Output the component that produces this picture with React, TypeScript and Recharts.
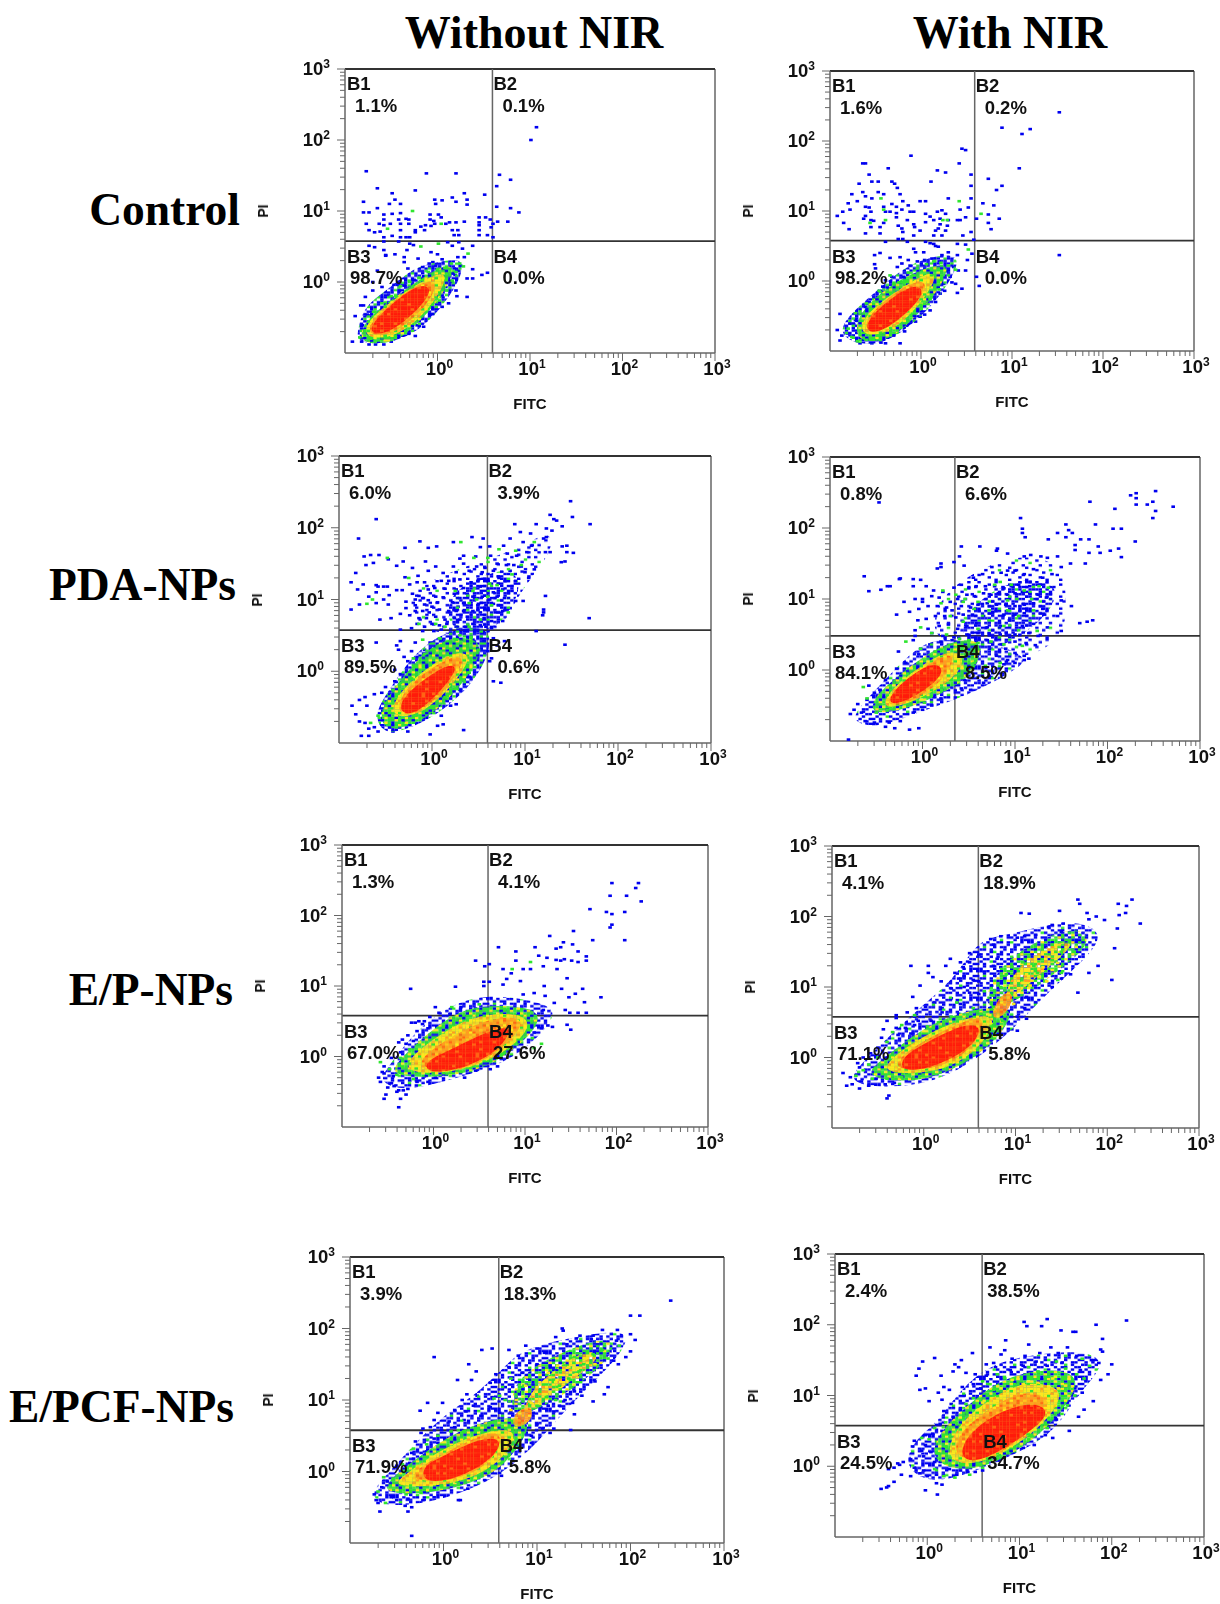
import { ScatterChart, Scatter, XAxis, YAxis, ReferenceLine } from 'recharts'

// all cytometry values are log10(intensity) x 100, written as flat FITC,PI pairs
type Pt = { x: number; y: number }
const pairs = (flat: number[]): Pt[] => {
  const out: Pt[] = []
  for (let i = 0; i < flat.length; i += 2) out.push({ x: flat[i] / 100, y: flat[i + 1] / 100 })
  return out
}

const controlOffBlue = [107,218,101,200,-77,156,-12,153,20,153,67,151,79,144,64,135,-65,132,-24,129,-49,125,29,125,51,123,16,119,-46,116,-3,116,5,115,-80,113,-52,110,-40,110,20,113,32,116,32,109,-2,110,64,106,79,104,-65,104,-80,98,-74,98,88,98,-58,95,-49,96,-40,97,-8,95,1,95,4,91,45,91,52,91,57,88,-58,88,-42,88,-34,89,-31,88,-8,88,-4,86,-77,82,-63,82,-58,80,-51,82,-40,82,-31,82,-13,80,-7,79,-3,82,13,84,20,84,29,85,45,84,60,82,65,85,76,85,9,82,-74,73,-68,70,-62,71,-58,63,-49,65,-40,73,-24,73,-18,78,-14,73,16,73,22,73,45,80,45,73,-40,63,-34,63,-30,63,-24,70,18,66,23,66,45,66,54,66,60,63,58,77,-58,57,-42,57,-30,54,-68,49,-74,51,-58,45,-33,45,-46,39,-36,35,-56,37,-26,52,-7,42,0,39,11,56,16,51,23,56,27,47,38,51,22,35,29,35,5,32,-5,28,-21,33,-36,28,-32,19,-56,38,-16,21,-9,26,-2,23,25,23,18,19,23,16,16,12,38,18,48,10,54,13,32,5,38,5,-65,16,-70,0,-60,-7,-43,0,-35,-5,-43,-4,16,0,9,-7,20,-12,32,-21,5,-19,0,-19,5,-35,-5,-38,-11,-33,-5,-45,-18,-52,-23,-54,-22,-61,-15,-63,-31,-73,-24,-76,-50,-84,-58,-88,-67,-88,-74,-88,-92,-84,-89,-48,-83,-33,-78,-21,-80,-33,-75,-47,-81,-61,-76,-46,-70,-12,-52,-38,-56,-19,-41,-12,-36,-5,-47,-4,-8,10,0,16,8,8,19,10,-15,8,-25,3,21,-20,12,-30,-8,-46,-28,-62,-36,-66,-30,-58,-44,-74,-60,-80,-70,-82,-82,-84,-72,-75]
const controlOffGreen = [-27,100,-54,75,4,82,-18,50,1,54,-45,-20,-34,-14,-26,-34,-16,-38,-6,-32,2,-26,10,-12,16,2,20,14,24,26,28,22,33,40,-78,-68,-84,-78,-72,-80,-60,-78,-50,-72,-40,-62,-26,-50,-60,-30,-50,-20,-40,-6,-30,0,-20,6,-10,14,0,18,8,20,15,26,-69,-42,-74,-56]
const controlOffHalo = [-88,-87,-49,-87,-16,-66,9,-28,27,9,27,35,2,28,-23,23,-52,-9,-79,-33,-86,-66]
const controlOffLevels = [
  [-87,-87,-52,-87,-34,-75,5,-23,23,28,-2,19,-38,-14,-79,-52],
  [-83,-80,-42,-80,0,-26,13,16,-9,9,-74,-47],
  [-78,-77,-45,-75,-9,-30,2,2,-18,2,-70,-49],
  [-75,-74,-51,-74,-12,-28,-6,-6,-23,-2,-68,-51],
]

const controlOnBlue = [152,241,89,219,120,217,111,210,45,189,49,187,-11,179,-61,168,-64,168,42,168,-36,161,18,158,27,155,108,161,-57,152,55,152,74,146,11,142,-54,142,-47,142,-32,142,-29,139,-68,139,55,136,89,136,83,130,-26,133,-64,127,-47,127,-76,124,-41,124,-23,124,-61,121,30,118,55,118,-54,118,-1,114,5,114,-70,114,-80,111,-32,110,-20,114,-14,108,68,111,80,108,52,105,-61,106,-57,105,-41,106,-27,106,-21,102,-78,102,-86,99,-92,93,-55,99,-39,99,-34,99,-27,97,-12,99,-8,99,5,96,18,99,23,101,27,96,43,102,49,91,74,95,86,89,61,89,-61,93,-63,89,-55,87,-52,86,-27,91,-15,87,-8,81,5,84,10,92,14,87,21,89,30,87,40,87,43,87,-85,83,-41,83,-25,79,-7,77,21,81,29,79,19,75,74,83,-79,74,-55,77,-45,77,-21,75,-1,72,16,72,-61,68,-45,68,-20,70,-8,65,14,65,27,72,23,65,46,65,55,70,77,74,-25,60,-20,60,-15,56,-39,56,10,54,14,53,5,56,40,53,49,52,58,59,-45,40,-51,37,-34,33,-51,24,-50,18,-8,46,-6,41,3,41,-23,34,-21,25,-14,30,16,50,19,49,23,37,30,41,40,37,56,39,51,30,41,15,49,15,61,6,64,-7,152,37,38,-4,40,-17,45,-11,32,6,25,-4,21,-18,12,-23,7,-32,-1,-51,-8,-49,-14,-61,-23,-89,-39,-89,-54,-89,-67,-89,-34,-75,-48,-23,-39,1,-36,-11,-57,-30,-61,-37,-67,-47,-89,-47,-78,-61,-92,-70,-87,-78,-89,-85,-81,-75,-32,6,-26,20,-19,6,-12,22,-4,28,4,30,12,32,20,28,-28,-6,-20,-12,-44,-14,-50,-26,-60,-84,-64,-84,10,-42,4,-48,16,-30,26,-14,34,-2,28,14,36,20,-42,-8,-56,-40,-72,-56,-74,-62,-6,-58,-18,-72,-30,-78,-44,-88,-50,-84]
const controlOnGreen = [-44,118,-41,102,-56,83,-39,87,24,87,29,87,42,114,66,96,52,45,-34,8,-24,-2,-14,12,-4,18,6,24,14,28,22,26,30,22,38,16,-80,-68,-76,-80,-70,-86,-60,-84,-48,-78,-36,-66,-22,-54,-12,-44,0,-34,10,-26,20,-12,-72,-46,-60,-32,-46,-14,-30,-4,-20,-2,-8,8]
const controlOnHalo = [-92,-75,-68,-92,-39,-89,-8,-61,21,-23,43,25,36,39,10,34,-19,20,-52,-18,-78,-47]
const controlOnLevels = [
  [-72,-89,-37,-85,-19,-68,18,-18,34,25,10,22,-30,-1,-72,-47],
  [-68,-82,-28,-73,10,-16,19,15,-4,6,-65,-47],
  [-63,-75,-34,-70,1,-25,8,1,-13,-1,-59,-47],
  [-62,-74,-41,-74,1,-27,2,-7,-15,-7,-57,-49],
]

const pdaOffBlue = [149,237,170,205,151,215,127,218,-60,212,-79,185,89,205,140,202,131,212,134,210,112,205,123,199,95,194,106,192,129,196,123,187,120,185,43,187,55,185,-13,181,23,180,145,175,140,174,84,185,77,175,98,180,107,175,-29,172,-4,172,5,174,52,173,62,174,145,166,152,165,127,166,122,166,-66,162,-73,160,-57,162,34,161,30,157,47,160,63,161,81,164,91,161,102,166,-47,156,143,153,139,152,-71,148,-63,151,-38,147,-31,153,-21,144,-7,153,4,146,-82,137,-29,131,-15,133,23,146,34,150,48,146,57,144,70,150,80,148,88,148,96,146,-4,140,12,137,26,138,40,140,54,138,66,140,84,140,100,138,110,142,-60,120,-74,121,-58,118,-52,118,-48,118,-24,121,-16,124,-8,124,10,126,18,126,30,128,42,124,50,128,60,126,72,130,90,126,104,130,-87,124,-80,114,-60,110,-68,104,-46,106,-52,100,-38,113,-32,113,-21,108,-14,105,-4,114,3,116,14,115,26,114,34,116,46,116,52,118,60,112,66,110,76,114,86,112,122,105,-18,100,-10,102,-4,99,4,104,12,103,24,108,30,102,38,108,44,104,54,104,62,100,70,104,78,102,90,98,98,98,-78,93,-87,86,-60,95,-47,93,-28,97,-18,92,-8,93,0,90,6,96,22,96,28,90,34,95,42,92,50,94,58,92,66,94,74,92,84,88,-28,88,-18,84,-10,84,-3,82,8,86,18,84,26,84,34,84,44,84,52,82,60,86,68,82,76,84,120,82,120,86,169,74,-56,72,-44,74,-34,80,-24,78,-14,74,-6,74,4,76,14,72,24,74,30,72,38,76,46,72,56,74,64,70,76,70,119,78,-16,66,-8,62,0,66,8,64,16,66,26,62,36,62,44,66,52,64,58,62,64,60,112,56,-34,58,-22,60,-10,56,2,56,10,58,20,54,28,58,36,56,46,56,54,54,-60,40,-34,42,-38,36,-18,40,-2,40,10,44,20,40,32,44,44,44,56,42,66,46,78,42,143,37,-36,30,-22,28,-8,30,4,34,-30,20,-26,14,-16,20,-6,12,60,28,70,36,64,18,48,32,62,14,46,12,66,-14,74,-16,-40,2,-34,-4,-24,-8,-14,4,-40,-14,-28,-18,-36,-28,-50,-22,-54,-30,-62,-32,-72,-36,-78,-40,-86,-48,-70,-48,-82,-60,-78,-70,-72,-72,-68,-80,-62,-78,-58,-84,-76,-90,-68,-90,-42,-84,-30,-70,-2,-88,-26,-84,6,-76,12,-74,34,-82,26,-46,18,-28,30,-26,40,-8,14,-40,2,-52,20,-48,10,-62]
const pdaOffGreen = [31,180,72,170,-48,158,45,158,60,158,90,168,110,180,-25,130,25,112,44,112,62,122,70,120,86,135,96,148,-70,94,-64,100,40,95,48,100,60,104,64,92,-14,66,4,66,14,62,30,50,40,62,52,72,82,82,-10,44,8,46,26,44,42,48,50,30,-20,18,-8,24,2,28,10,36,46,6,40,-2,34,-12,26,-24,14,-36,0,-50,-18,-62,-36,-58,-50,-44,-58,-62,-66,-72,-22,-10,-34,-16,-42,-26]
const pdaOffCloud = [-30,106,5,130,48,152,95,171,127,199,131,171,106,129,91,101,77,64,63,50,5,50,-23,73]
const pdaOffDense = [16,106,48,129,84,147,98,119,81,78,63,54,16,54]
const pdaOffHalo = [-63,-62,-52,-87,-30,-83,5,-62,43,-20,63,27,63,64,20,59,-16,31,-48,-29]
const pdaOffLevels = [
  [-55,-80,-30,-80,2,-60,38,-11,59,40,30,50,-2,36,-30,-6,-55,-48],
  [-47,-66,-9,-62,30,-8,45,27,16,27,-38,-29],
  [-41,-62,-11,-60,23,-13,38,22,16,20,-30,-22],
  [-35,-59,-16,-61,20,-13,28,9,12,9,-34,-36],
]

const pdaOnBlue = [252,252,231,249,225,246,231,242,249,237,243,233,231,233,252,224,271,230,249,214,181,237,208,227,-47,236,106,214,187,205,155,205,108,199,108,193,111,187,146,193,158,197,162,193,155,187,136,184,171,184,180,184,206,199,215,199,230,181,165,176,190,174,212,171,203,168,215,159,81,171,165,169,180,165,192,165,42,174,62,174,80,168,92,164,110,160,117,162,128,160,135,158,146,160,20,150,34,152,-24,129,-25,128,-63,132,-35,118,-38,118,-45,113,-58,111,-10,128,-2,127,16,143,20,145,40,160,45,147,55,130,65,135,75,145,85,137,92,140,100,140,110,135,120,142,130,130,140,135,150,145,160,150,176,150,-10,118,0,100,4,118,12,112,22,110,34,116,42,120,50,115,58,118,68,118,78,118,88,115,96,118,104,120,116,118,124,120,-20,96,-8,100,0,96,10,104,18,102,30,96,38,100,48,106,56,104,66,108,74,106,82,108,92,106,100,108,108,110,116,108,125,106,134,102,-28,78,-14,82,-4,86,6,90,16,90,26,88,32,84,42,90,52,88,60,92,70,94,80,92,90,92,100,90,110,92,120,94,130,86,150,98,161,90,-5,70,4,72,14,76,24,76,36,74,44,78,54,78,66,76,76,82,88,78,100,78,110,80,132,78,146,76,170,66,178,68,184,70,-8,56,6,58,18,62,28,64,38,58,48,62,58,66,70,60,84,62,94,70,108,62,120,65,135,60,150,55,-8,48,10,52,22,48,34,46,48,50,60,52,72,52,84,50,100,50,115,52,125,48,-10,42,20,40,32,42,44,38,58,40,70,42,85,36,100,40,112,38,122,35,-2,30,8,36,24,32,40,26,60,26,74,30,90,30,100,24,-26,26,-4,22,8,16,18,10,48,30,80,20,92,14,110,20,-28,2,-18,10,-14,-4,-30,-18,-40,-14,-46,-28,-52,-32,-58,-22,-60,-42,-70,-48,-74,-56,-78,-62,-66,-60,-62,-72,-52,-74,-40,-80,-36,-74,-24,-72,-10,-60,0,-56,10,-50,12,-38,20,-40,24,-28,42,-26,52,-28,66,-18,74,-10,45,-14,36,-6,88,8,100,10,110,14,115,16,-80,-98,-30,-82,-14,-84,-4,-82]
const pdaOnGreen = [22,112,36,106,46,100,60,96,78,120,84,124,96,120,92,98,102,100,110,112,118,100,126,118,136,116,20,94,44,96,56,86,72,84,92,84,104,76,120,84,30,76,44,68,60,58,72,70,88,62,104,56,124,55,-2,60,10,52,26,50,40,44,50,42,60,38,74,40,88,36,108,34,-18,40,-2,30,14,26,28,22,40,14,56,10,68,6,84,10,-10,-34,-20,-44,-38,-56,-50,-60,-60,-40,-64,-24,2,-46,14,-26,30,-14]
const pdaOnCloud = [9,48,16,99,52,137,106,165,153,151,156,90,153,48,117,15,66,20,37,34]
const pdaOnDense = [37,48,52,90,95,128,145,128,145,90,109,48,70,24]
const pdaOnHalo = [-81,-72,-49,-83,-6,-60,48,-37,95,-4,117,15,88,34,37,43,5,43,-27,6,-60,-41]
const pdaOnLevels = [
  [-53,-65,-6,-51,37,-22,59,1,66,43,37,43,5,24,-38,-20,-56,-46],
  [-45,-58,-6,-44,36,-11,46,15,36,29,9,17,-38,-30],
  [-40,-53,-11,-46,27,-11,36,24,18,20,-35,-30],
  [-38,-51,-14,-43,20,-12,22,5,7,11,-33,-28],
]

const epOffBlue = [195,246,224,246,221,239,193,228,211,228,227,220,171,209,189,205,195,202,209,205,195,187,193,183,209,165,174,165,153,178,127,171,142,162,139,155,134,153,152,159,158,149,167,142,167,136,158,134,151,136,143,138,139,136,134,137,135,124,124,140,115,143,111,155,90,149,90,136,71,155,46,136,61,131,56,128,76,124,85,118,120,128,106,124,98,124,146,111,163,96,183,84,155,89,165,77,167,62,158,62,149,62,-25,96,55,106,61,106,80,110,95,107,24,99,55,100,76,102,98,88,110,90,122,86,121,100,140,96,148,84,132,76,144,66,120,66,146,45,150,38,130,42,108,50,98,42,92,58,86,50,78,66,72,64,60,60,52,60,46,68,40,62,30,70,28,52,18,60,6,62,2,70,-4,56,-10,50,-16,50,-20,48,-6,40,-12,46,-24,48,-18,36,-10,26,-28,30,-34,24,-30,18,-38,20,-22,22,-36,6,-46,-2,-54,-14,-60,-30,-54,-24,-44,-28,-46,-38,-50,-44,-43,-42,-52,-54,-40,-50,-33,-48,-26,-34,-28,-46,-18,-36,-10,-28,-6,-36,2,-30,14,-26,24,-18,34,-30,46,-20,60,-6,74,-2,62,-18,70,-14,84,10,92,22,110,34,118,40,125,44,-56,-22,-58,-36,-54,-60,-38,-48,-38,-72,-36,-60,-30,-54]
const epOffGreen = [106,134,86,124,20,70,50,74,62,54,30,46,84,42,104,38,118,18,-6,10,-26,10,-36,-2,-48,-18,-58,-8,-40,-26,-22,-32,-6,-24,14,-20,30,-22,44,-14,60,-4,76,4,90,20,108,26,110,12]
const epOffHalo = [-60,-36,-33,-50,18,-33,62,-17,98,7,127,45,135,69,98,83,44,88,0,59,-29,21,-51,-17]
const epOffLevels = [
  [-49,-26,-11,-31,40,-24,76,-2,109,33,120,64,84,73,36,71,0,40,-36,-2],
  [-33,-24,18,-24,62,-7,98,26,106,50,91,62,47,59,15,38,-25,2],
  [-16,-17,29,-21,62,-2,95,36,98,57,62,55,22,31,-13,0],
  [-7,-25,32,-18,72,8,89,44,63,39,15,7,-10,-7],
]

const epOnBlue = [168,224,227,224,212,218,221,215,220,205,106,205,236,190,213,202,211,183,208,155,170,218,188,200,197,195,148,208,180,196,178,205,115,204,73,168,84,172,110,172,152,190,140,188,136,185,150,178,122,174,102,170,74,150,76,160,80,140,50,148,60,146,40,135,43,128,24,130,29,140,-14,130,5,130,5,120,34,120,38,112,44,115,50,135,66,122,76,130,84,128,96,138,100,120,110,114,104,110,120,112,130,118,146,132,160,118,180,120,190,130,205,110,150,112,168,92,140,100,88,110,74,102,60,108,54,110,44,100,30,98,19,108,10,114,-4,102,-12,86,-8,70,2,72,12,78,20,70,30,84,40,76,50,92,60,90,72,84,82,80,90,92,100,94,112,86,122,78,110,70,-18,64,-10,58,-30,60,-6,52,8,52,20,64,38,62,58,64,72,70,84,62,92,66,102,58,112,55,-30,56,-40,52,-44,40,-46,28,-28,32,-30,42,-20,42,-14,34,-10,46,96,40,102,38,-50,14,-58,6,-66,0,-72,-8,-70,-14,-84,-40,-80,-28,-78,-38,-88,-22,-68,-34,-70,-44,-60,-40,-52,-30,-42,-38,-32,-36,-24,-22,-14,-30,0,-18,12,-10,30,-2,44,6,54,18,60,30,70,46,-40,-58,-38,-54,-46,-14,-34,-20]
const epOnGreen = [140,160,150,150,164,150,140,138,120,130,108,135,96,128,124,120,132,108,150,120,146,110,90,118,84,100,92,84,76,88,66,94,76,72,54,70,62,62,36,78,30,58,16,50,4,44,-10,60,-24,46,-34,36,-40,22,-50,0,-60,-10,-66,-18,-74,-26,-56,-30,-40,-30,-24,-28,-4,-26,14,-14,30,-6,46,8,58,16,70,36,74,46,86,52]
const epOnYellow = [112,118,126,114,140,124,134,108,116,102,104,94,92,90,86,76,100,88,130,128,146,134,98,76,78,66,72,60,108,106]
const epOnHalo = [-87,-35,-43,-44,15,-35,59,-1,95,36,135,93,182,146,197,179,160,198,95,174,59,169,37,117,8,84,-21,51,-62,-1]
const epOnArm = [66,65,102,79,146,122,182,160,175,183,146,179,95,146,70,103]
const epOnArmCore = [88,74,117,108,153,146,164,164,146,164,117,146,91,108]
const epOnLevels = [
  [-69,-27,-14,-37,29,-20,66,8,95,51,95,74,44,67,-3,41,-43,-1],
  [-43,-23,15,-23,59,8,84,60,51,60,0,32,-41,-6],
  [-31,-18,15,-18,55,13,70,58,48,55,4,27,-29,-1],
  [-25,-22,14,-13,54,15,65,47,41,47,1,20,-25,0],
  [70,51,91,60,100,93,84,93],
]

const pcfOffBlue = [243,239,210,218,200,218,127,200,128,197,120,188,132,178,146,190,142,186,158,185,160,190,170,198,186,198,200,192,205,184,185,183,178,168,195,160,200,168,187,150,182,155,165,178,108,166,100,172,88,176,70,170,80,162,41,170,52,172,-10,160,27,150,35,140,30,128,15,128,50,124,25,108,36,106,20,100,-25,85,-17,96,-1,96,12,86,24,84,32,92,52,104,66,118,56,136,70,146,84,138,90,130,100,150,114,146,120,130,140,112,150,128,162,126,130,100,110,116,70,98,84,96,60,82,50,90,40,78,22,72,12,62,6,70,-6,82,-10,72,-2,58,-14,62,-22,60,-24,54,-30,42,-10,46,-18,44,-6,40,-18,28,-24,26,-34,26,-36,12,-40,8,-32,18,-50,8,-30,4,-26,-2,-46,-24,-60,-14,-66,-22,-74,-32,-72,-40,-68,-56,-70,-44,-56,-36,-50,-40,-38,-38,-38,-56,-22,-40,-10,-36,16,-40,18,-40,26,-24,44,-12,52,0,68,20,80,36,94,50,100,66,114,54,80,58,136,58,118,60,-34,-90,-41,-48,-34,-50,60,-2,62,-6,46,-4,62,30,88,58,94,40,106,60,124,92,118,84,140,80,176,118,172,108,160,98,148,106,138,96,112,92,104,90,96,82,78,78,72,84,70,50,56,36,40,36,58,10]
const pcfOffGreen = [150,150,160,164,170,170,145,140,134,130,124,120,110,104,120,100,100,92,80,112,60,106,54,102,86,120,72,130,66,100,50,68,36,58,22,56,8,56,-6,50,-18,38,-32,32,-44,10,-54,-10,-64,-8,-70,-28,-62,-44,-40,-32,-24,-30,-2,-20,14,-14,30,-8,48,4,62,12,78,40,84,70,140,160,176,158,188,176]
const pcfOffYellow = [112,138,122,148,134,146,152,158,100,118,108,108,94,96,78,100,88,120,120,125,142,136,72,86,80,72,162,150]
const pcfOffHalo = [-83,-35,-56,-53,15,-35,65,-2,101,40,133,91,186,156,204,198,158,193,86,174,65,146,36,109,8,86,-21,53,-56,2]
const pcfOffArm = [72,72,108,91,143,119,176,156,186,184,158,184,108,156,72,123]
const pcfOffArmCore = [83,72,115,105,147,137,169,160,151,170,122,146,90,109]
const pcfOffLevels = [
  [-72,-30,-21,-33,33,-16,65,7,94,58,86,79,40,70,4,49,-46,2],
  [-56,-21,-10,-21,26,-12,61,12,83,58,54,60,1,35,-42,-5],
  [-35,-14,15,-14,54,14,65,53,47,56,1,26,-31,2],
  [-21,-18,19,-9,57,22,63,47,39,47,1,22,-24,7],
  [72,58,94,67,97,93,76,86],
]

const pcfOnBlue = [145,192,130,208,183,200,216,206,158,190,108,198,124,198,105,204,190,180,188,165,190,162,161,190,85,178,110,172,84,164,68,168,30,144,34,140,8,153,-5,148,37,150,49,160,72,146,80,158,92,152,106,156,122,160,134,168,142,160,152,168,162,156,180,150,196,130,188,122,200,144,-9,138,-12,128,15,128,28,134,42,132,52,130,64,144,74,140,90,136,104,142,118,148,130,142,146,146,166,136,178,150,186,146,18,112,-2,110,12,104,24,108,38,112,50,116,58,110,64,128,80,126,96,118,110,130,130,120,158,130,160,110,172,120,168,104,156,100,146,112,-8,108,2,92,16,94,26,88,40,100,54,96,66,102,80,104,152,90,138,94,36,80,18,78,14,60,28,70,42,74,50,66,62,74,126,76,138,74,132,62,130,72,140,66,16,50,-2,44,6,46,24,46,38,56,26,36,-2,30,-14,36,-16,28,-6,22,4,20,-4,14,8,6,14,6,22,10,-32,4,-36,-2,-42,-4,-26,6,-30,2,-18,10,-14,-2,-8,-10,-4,-6,0,-14,10,-12,10,-24,16,-26,-2,-34,11,-40,-44,-30,-42,-28,-50,-32,-36,-22,-28,-12,-18,-14,24,-4,32,-12,36,-6,44,-8,52,-8,60,-6,78,8,90,22,104,26,116,30,128,44,136,40,154,50,164,70,170,80,180,92]
const pcfOnGreen = [140,148,150,138,162,130,170,124,176,142,150,156,168,152,110,140,120,134,84,124,76,130,68,116,60,120,72,108,50,96,42,88,30,62,20,62,8,54,2,38,-6,40,20,28,12,18,8,-4,18,-14,30,-16,46,-12,60,-2,78,16,110,38,130,54,146,74,152,86,160,100]
const pcfOnYellow = [92,122,104,116,120,118,136,124,80,110,132,104,142,110,70,96,60,90,44,60,56,80,150,114]
const pcfOnHalo = [-26,-1,3,-25,46,-11,104,22,140,51,166,107,195,145,173,164,119,159,68,145,35,107,10,60,-15,36]
const pcfOnLevels = [
  [0,8,46,-13,108,27,148,79,169,126,137,140,83,126,50,93,14,51],
  [17,8,54,-1,104,34,140,79,148,112,108,121,75,102,32,60],
  [26,13,61,6,101,36,130,74,133,98,104,107,75,88,35,51],
  [35,8,60,6,108,45,135,75,118,92,78,79,40,42],
]

const panelTitles = ['Control', 'PDA-NPs', 'E/P-NPs', 'E/PCF-NPs']
const gateFitc = [0.594, 0.59, 0.596, 0.35, 0.596, 0.595, 0.591, 0.595]
const gatePi = [0.576, 0.578, 0.573, 0.48, 0.579, 0.576, 0.577, 0.575]
const quadrantPercents = [
  ['1.1%', '0.1%', '98.7%', '0.0%'],
  ['1.6%', '0.2%', '98.2%', '0.0%'],
  ['6.0%', '3.9%', '89.5%', '0.6%'],
  ['0.8%', '6.6%', '84.1%', '8.5%'],
  ['1.3%', '4.1%', '67.0%', '27.6%'],
  ['4.1%', '18.9%', '71.1%', '5.8%'],
  ['3.9%', '18.3%', '71.9%', '5.8%'],
  ['2.4%', '38.5%', '24.5%', '34.7%'],
]
const decadeTicks = [0, 1, 2, 3]
const minorTicks = [-1, 0, 1, 2].flatMap((d) => [2, 3, 4, 5, 6, 7, 8, 9].map((k) => d + Math.log10(k)))
const allTicks = [...minorTicks, ...decadeTicks]

// plot boxes: left, top, right, bottom
const boxes = [
  [345, 69, 715, 353],
  [830, 71, 1194, 351],
  [339, 456, 711, 743],
  [830, 457, 1200, 741],
  [342, 845, 708, 1127],
  [832, 846, 1199, 1128],
  [350, 1257, 724, 1543],
  [835, 1254, 1204, 1537],
]

// density regions, lowest density first, with the grain they get
const series: { blue: number[]; green: number[]; yellow: number[]; under: [number[], string][]; levels: number[][] }[] = [
  { blue: controlOffBlue, green: controlOffGreen, yellow: [], under: [[controlOffHalo, 'halo']], levels: controlOffLevels },
  { blue: controlOnBlue, green: controlOnGreen, yellow: [], under: [[controlOnHalo, 'halo']], levels: controlOnLevels },
  { blue: pdaOffBlue, green: pdaOffGreen, yellow: [], under: [[pdaOffCloud, 'sparse'], [pdaOffDense, 'dense'], [pdaOffHalo, 'halo']], levels: pdaOffLevels },
  { blue: pdaOnBlue, green: pdaOnGreen, yellow: [], under: [[pdaOnCloud, 'sparse'], [pdaOnDense, 'dense'], [pdaOnHalo, 'dense']], levels: pdaOnLevels },
  { blue: epOffBlue, green: epOffGreen, yellow: [], under: [[epOffHalo, 'dense']], levels: epOffLevels },
  { blue: epOnBlue, green: epOnGreen, yellow: epOnYellow, under: [[epOnHalo, 'dense'], [epOnArm, 'mix'], [epOnArmCore, 'amber']], levels: epOnLevels },
  { blue: pcfOffBlue, green: pcfOffGreen, yellow: pcfOffYellow, under: [[pcfOffHalo, 'dense'], [pcfOffArm, 'mix'], [pcfOffArmCore, 'amber']], levels: pcfOffLevels },
  { blue: pcfOnBlue, green: pcfOnGreen, yellow: pcfOnYellow, under: [[pcfOnHalo, 'dense']], levels: pcfOnLevels },
]

const grainColors: Record<string, string> = {
  b: '#0000f0', g: '#2fe52f', y: '#ffe81c', l: '#ffc41c', o: '#ff9c1e', a: '#ff6414', r: '#ff1a0a',
}
const grains: Record<string, string[]> = {
  sparse: ['.b....b......b.', '....b.....b....', 'b.......b....b.', '...b..b.....g..', '.g.........b...', '....b..b......b', 'b.........b....', '...b...g....b..', '.....b.....b...', '.b.......b....b', '....b........b.', 'b.....b...b....'],
  dense: ['bb.b..bb.bg..b.', '..b.bb...b.bb..', 'b.g..b.bb..b..b', '.bb.b...b.bb.b.', 'b...bg.b..b...b', '.b.b..bb.b..bb.', 'bb..b.b...g.b..', '..bb...b.bb..bb', '.b..gb..b...b..', 'b.b...bb.b.b..b', '..b.bb...bb..b.', 'bb...b.g...b.bb'],
  halo: ['bbgb.bgbb.bg.bb', 'b.bbgb.b.bbgb.b', 'gb.bb.gbb.b.bbg', 'bb.g.bb.bgb.b.b', '.bgbb.bbg.bbg.b', 'bb.b.gb.bb.b.gb', 'b.gbb.bb.gb.bb.', 'gb.b.bgb.b.bgbb', '.bb.gb.b.bbg.b.', 'bg.bb.bgb.b.bbg', 'b.bb.gb.bb.gb.b', '.gb.bb.b.gbb.bg'],
  mix: ['gbg.yg.bgg.bgyb', '.ggbg.bgy.gbg.g', 'bg.ygb.gg.bgb.y', 'g.bgg.ygb.g.ggb', '.yg.bgb.gygb.g.', 'gb.g.ygbg.b.gyg', 'g.bgb.g.ygb.g.b', 'yg.bg.bgg.gyb.g', '.bgy.gb.g.b.ggb', 'g.g.bgyg.bgb.y.', 'bgb.g.b.gyg.bg.', '.gyg.bg.g.bgg.b'],
  amber: ['yygo.yyg.oyg.yy', 'g.yyoyg.yy.oyyg', 'yo.gyy.oyg.yy.o', 'y.yyg.oyy.gyo.y', 'oyg.yy.yg.oyygo', 'yy.oyg.yy.gy.oy', 'g.yy.oyg.yyo.gy', 'yoy.gy.oyy.gyy.', '.yyg.oyy.gy.oyg', 'yg.oyy.gyo.yy.g', 'oyy.g.yyo.gyyo.', 'y.gyo.yg.yy.oyy'],
  green: ['gggbgyggbggygbg', 'ygbggggyggbgggy', 'ggygbgbggyggbgg', 'bggggyggbgggygb', 'ggbygggbgygggbg', 'gyggbggygggbygg', 'gggygbgggbygggb', 'ybggggybgggygbg', 'ggbgygggbgggbgg', 'gyggbggyggygggy', 'bgggygbggbggbgg', 'gygbgggygggygbg'],
  yellow: ['yyoyyyyoyygyyoy', 'yoyylyyyoyyylyy', 'yygyyoyyylyyyyg', 'lyyyoyygyoyylyy', 'yyyoyylyyyyoyyy', 'gyylyyyoygyylyy', 'yoyyyyoyyyyoyyl', 'yylyygyylyoyyyg', 'oyyyoyyyyyylyoy', 'yyglyyoyygyyyyy', 'ylyyyyyyoyylyoy', 'yyoygyylyyoyyyg'],
  orange: ['olaoyoolaoolaoo', 'aoolooayooaoolo', 'oolaolooloyaooa', 'looaoolaooolaoo', 'oaooylooaoloaol', 'ooaloooaolooyoa', 'loooaoloooaolao', 'oaolooyaolooaol', 'ooaooaloooalooo', 'aloolaoooyoaolo', 'oooaloolaooaloo', 'laoooyaoolaoooa'],
  red: ['rrarrrrarrrrarr', 'rrrrrrrrrrrrrrr', 'arrrrrrrrrrrrar', 'rrrrrrrrrarrrrr', 'rrrrrarrrrrrrrr', 'rrrrrrrrrrrrrrr', 'rrarrrrrrrrrrar', 'rrrrrrrrrrrarrr', 'rrrrarrrrrrrrrr', 'rrrrrrrrrrrrrar', 'rrrrrrarrrrrrrr', 'arrrrrrrrrrrarr'],
}
const levelGrains = ['green', 'yellow', 'orange', 'red', 'orange']
const CELL_W = 3.4
const CELL_H = 2.4
const INK = '#111111'
const FRAME = '#666666'

const square = (fill: string) => (p: any) => (
  <rect x={p.cx - 1.8} y={p.cy - 1.3} width={3.6} height={2.6} fill={fill} />
)
const hidden = () => <g />

const XTick = ({ x, y, payload }: any) => {
  const major = Number.isInteger(payload.value)
  return (
    <g>
      <line x1={x} x2={x} y1={y} y2={y + (major ? 8 : 5)} stroke={FRAME} strokeWidth={1} />
      {major && (
        <text x={x + 2} y={y + 22} textAnchor="middle" fontFamily="Liberation Sans" fontWeight="bold" fontSize={18.5} fill={INK}>
          10<tspan dy={-7} fontSize={12}>{payload.value}</tspan>
        </text>
      )}
    </g>
  )
}

const YTick = ({ x, y, payload }: any) => {
  const major = Number.isInteger(payload.value)
  return (
    <g>
      <line x1={x} x2={x - (major ? 8 : 5)} y1={y} y2={y} stroke={FRAME} strokeWidth={1} />
      {major && (
        <text x={x - 15} y={y + 6} textAnchor="end" fontFamily="Liberation Sans" fontWeight="bold" fontSize={18.5} fill={INK}>
          10<tspan dy={-7} fontSize={12}>{payload.value}</tspan>
        </text>
      )}
    </g>
  )
}

const labelStyle = {
  position: 'absolute' as const,
  fontFamily: 'Liberation Sans',
  fontWeight: 'bold' as const,
  fontSize: 18.5,
  lineHeight: '20px',
  color: INK,
  whiteSpace: 'nowrap' as const,
}

function FlowPanel({ index }: { index: number }) {
  const [left, top, right, bottom] = boxes[index]
  const w = right - left
  const h = bottom - top
  const data = series[index]
  const gx = gateFitc[index]
  const gy = gatePi[index]
  const px = ((gx + 1) / 4) * w
  const py = h - ((gy + 1) / 4) * h
  const [b1, b2, b3, b4] = quadrantPercents[index]
  const pctOffset = (t: string) => (t.length > 4 ? 5 : 10)
  const region = (flat: number[], grain: string, key: string) => (
    <Scatter key={key} data={pairs(flat)} shape={hidden} line={{ fill: `url(#grain-${grain})`, stroke: 'none' }} lineJointType="basisClosed" isAnimationActive={false} />
  )

  return (
    <div style={{ position: 'absolute', left: left - 60, top: top - 20, width: w + 80, height: h + 90, filter: 'blur(0.45px)' }}>
      <ScatterChart width={w + 80} height={h + 60} margin={{ top: 20, right: 20, bottom: 0, left: 0 }}>
        <XAxis type="number" dataKey="x" domain={[-1, 3]} ticks={allTicks} interval={0} height={40} tick={XTick} tickLine={false} tickSize={0} tickMargin={0} stroke={FRAME} strokeWidth={1.5} allowDataOverflow />
        <YAxis type="number" dataKey="y" domain={[-1, 3]} ticks={allTicks} interval={0} width={60} tick={YTick} tickLine={false} tickSize={0} tickMargin={0} stroke={FRAME} strokeWidth={1.5} allowDataOverflow />
        <Scatter data={pairs(data.blue)} shape={square('#0000f0')} isAnimationActive={false} />
        {data.under.map(([flat, grain], i) => region(flat, grain, `u${i}`))}
        {region(data.levels[0], levelGrains[0], 'l0')}
        <Scatter data={pairs(data.green)} shape={square('#2fe52f')} isAnimationActive={false} />
        <Scatter data={pairs(data.yellow)} shape={square('#f4e81c')} isAnimationActive={false} />
        {data.levels.slice(1).map((lvl, i) => region(lvl, levelGrains[i + 1], `l${i + 1}`))}
        <ReferenceLine x={3} stroke={FRAME} strokeWidth={1.5} />
        <ReferenceLine y={3} stroke="#333333" strokeWidth={1.8} />
        <ReferenceLine x={gx} stroke={FRAME} strokeWidth={1.5} />
        <ReferenceLine y={gy} stroke="#333333" strokeWidth={1.8} />
      </ScatterChart>
      <div style={{ position: 'absolute', left: 60, top: 20, width: w, height: h }}>
        <span style={{ ...labelStyle, left: 2, top: 5 }}>B1</span>
        <span style={{ ...labelStyle, left: pctOffset(b1), top: 27 }}>{b1}</span>
        <span style={{ ...labelStyle, left: px + 1, top: 5 }}>B2</span>
        <span style={{ ...labelStyle, left: px + pctOffset(b2), top: 27 }}>{b2}</span>
        <span style={{ ...labelStyle, left: 2, top: py + 6 }}>B3</span>
        <span style={{ ...labelStyle, left: 5, top: py + 27 }}>{b3}</span>
        <span style={{ ...labelStyle, left: px + 1, top: py + 6 }}>B4</span>
        <span style={{ ...labelStyle, left: px + pctOffset(b4), top: py + 27 }}>{b4}</span>
        <span style={{ ...labelStyle, fontSize: 15, left: 0, width: w, textAlign: 'center', top: h + 41 }}>FITC</span>
        <span style={{ ...labelStyle, fontSize: 14, left: -82, top: h / 2, transform: 'translate(-50%,-50%) rotate(-90deg)' }}>PI</span>
      </div>
    </div>
  )
}

const headingStyle = {
  position: 'absolute' as const,
  fontFamily: 'Liberation Serif',
  fontWeight: 'bold' as const,
  fontSize: 46,
  lineHeight: '50px',
  color: '#000',
  whiteSpace: 'nowrap' as const,
}

const titleRight = [240, 236, 233, 234]
const titleMiddle = [210, 585, 990, 1407]
const titleSize = 45.5

function GrainDefs() {
  return (
    <svg width={0} height={0} style={{ position: 'absolute' }}>
      <defs>
        {Object.entries(grains).map(([name, rows]) => (
          <pattern key={name} id={`grain-${name}`} patternUnits="userSpaceOnUse" width={rows[0].length * CELL_W} height={rows.length * CELL_H}>
            {rows.flatMap((row, r) =>
              row.split('').map((c, k) =>
                c === '.' ? null : (
                  <rect key={`${r}-${k}`} x={k * CELL_W} y={r * CELL_H} width={CELL_W} height={CELL_H} fill={grainColors[c]} />
                ),
              ),
            )}
          </pattern>
        ))}
      </defs>
    </svg>
  )
}

export default function App() {
  return (
    <div style={{ position: 'absolute', left: 0, top: 0, width: 1220, height: 1604, background: '#fff', overflow: 'hidden' }}>
      <GrainDefs />
      <div style={{ ...headingStyle, left: 534, top: 8, transform: 'translateX(-50%)' }}>Without NIR</div>
      <div style={{ ...headingStyle, left: 1010, top: 8, transform: 'translateX(-50%)' }}>With NIR</div>
      {panelTitles.map((t, i) => (
        <div key={t} style={{ ...headingStyle, fontSize: titleSize, right: 1220 - titleRight[i], top: titleMiddle[i] - 25 }}>{t}</div>
      ))}
      {boxes.map((_, i) => (
        <FlowPanel key={i} index={i} />
      ))}
    </div>
  )
}
